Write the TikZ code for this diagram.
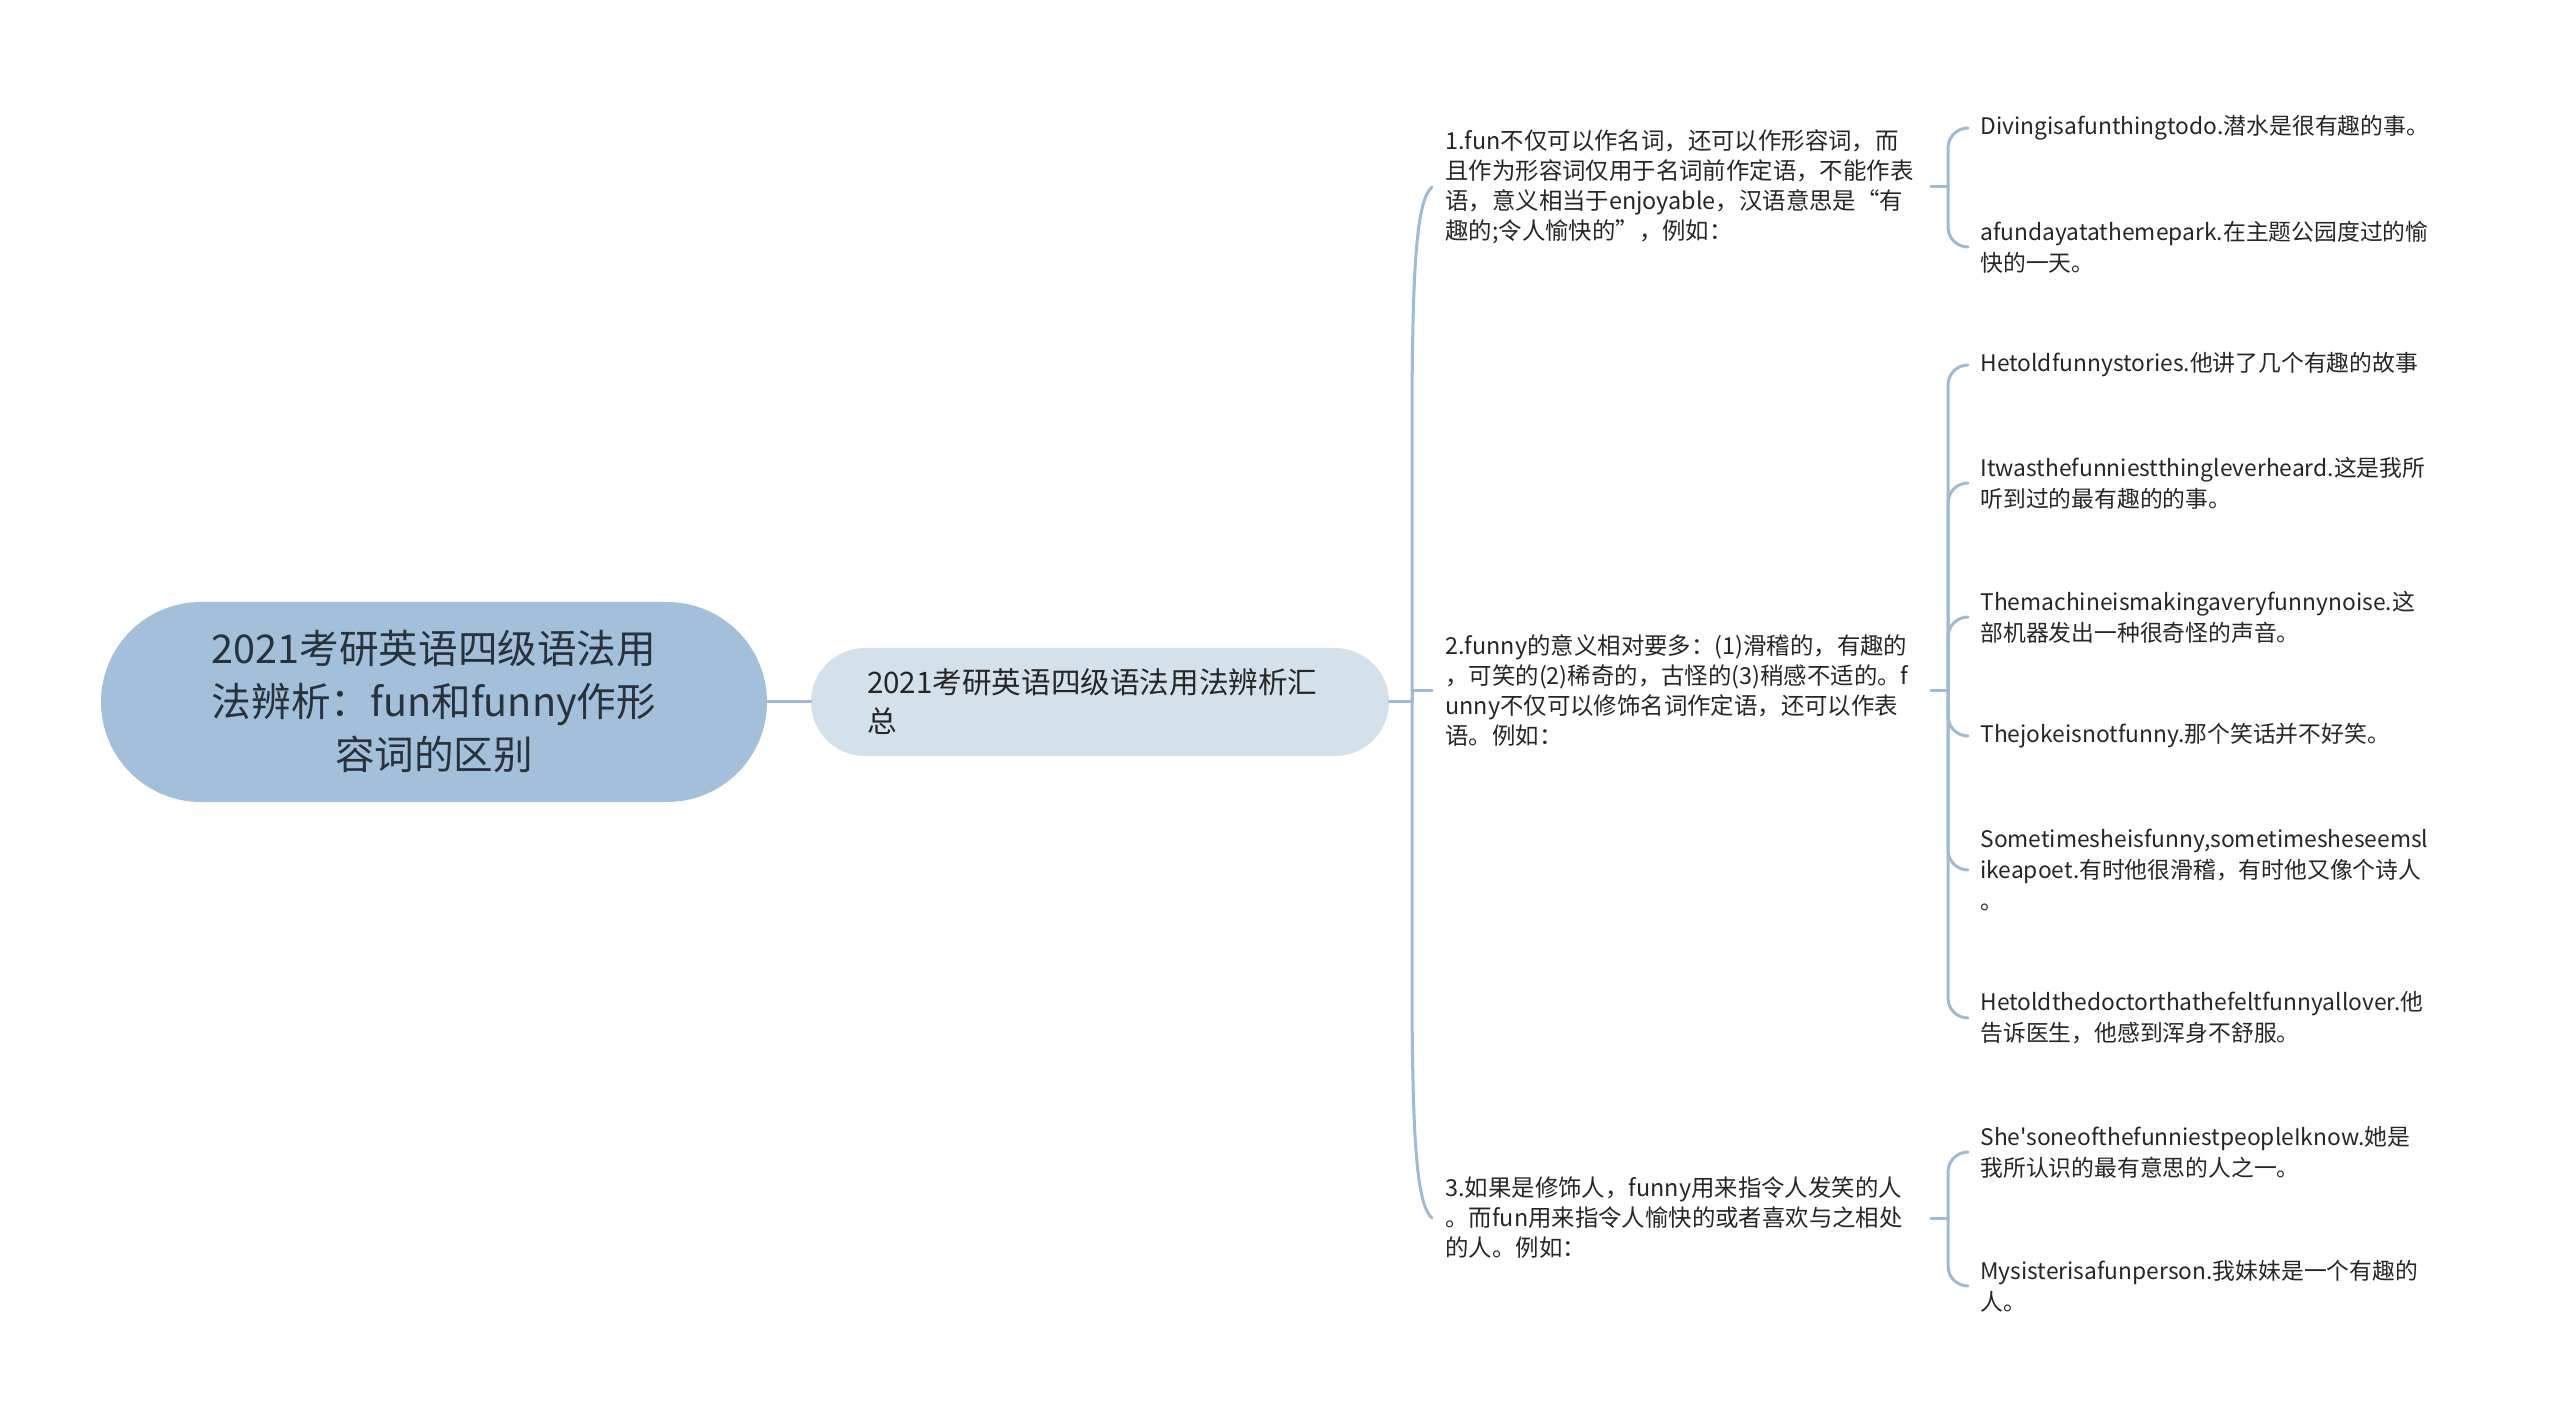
\documentclass[tikz,border=0pt]{standalone}
\usepackage{fontspec}
\setmainfont{Noto Sans CJK SC}[Ligatures=TeXOff]
\definecolor{rootfill}{HTML}{A3BFDA}
\definecolor{subfill}{HTML}{D4E0EA}
\definecolor{linkcol}{HTML}{A0BAD2}
\definecolor{txtcol}{HTML}{262626}
\definecolor{roottxt}{HTML}{28323D}
\tikzset{
  rootbox/.style={rectangle, rounded corners=50pt, fill=rootfill, text=roottxt,
    minimum width=333pt, minimum height=100pt, align=center,
    font=\fontsize{19.8pt}{26.5pt}\selectfont},
  subbox/.style={rectangle, rounded corners=27pt, fill=subfill, text=txtcol,
    minimum height=54pt, inner xsep=28pt, text width=233pt, align=left,
    font=\fontsize{14.8pt}{19.5pt}\selectfont},
  branchtxt/.style={anchor=west, inner xsep=6.5pt, inner ysep=0pt, text=txtcol,
    text width=236pt, align=left, font=\fontsize{11.7pt}{15pt}\selectfont},
  leaftxt/.style={anchor=west, inner xsep=6pt, inner ysep=0pt, text=txtcol,
    text width=236pt, align=left, font=\fontsize{11.4pt}{15.5pt}\selectfont},
  link/.style={draw=linkcol, line width=1.5pt, line cap=round}
}
\begin{document}
\begin{tikzpicture}[x=0.5pt, y=-0.5pt]
  \useasboundingbox (0,0) rectangle (2560,1427);

  % centre and summary
  \node[rootbox] (root) at (434,702) {2021考研英语四级语法用\\法辨析：fun和funny作形\\容词的区别};
  \node[subbox] (sum) at (1100,702) {2021考研英语四级语法用法辨析汇\\总};
  \draw[link] (root) -- (sum);

  % the three points
  \node[branchtxt] (p1) at (1432,187) {1.fun不仅可以作名词，还可以作形容词，而\\且作为形容词仅用于名词前作定语，不能作表\\语，意义相当于enjoyable，汉语意思是“有\\趣的;令人愉快的”，例如：};
  \node[branchtxt] (p2) at (1432,691) {2.funny的意义相对要多：(1)滑稽的，有趣的\\，可笑的(2)稀奇的，古怪的(3)稍感不适的。f\\unny不仅可以修饰名词作定语，还可以作表\\语。例如：};
  \node[branchtxt] (p3) at (1432,1218) {3.如果是修饰人，funny用来指令人发笑的人\\。而fun用来指令人愉快的或者喜欢与之相处\\的人。例如：};

  \coordinate (j) at (1412,702);
  \draw[link] (sum.east) -- (j);
  \draw[link] (j) -- (1412,430) .. controls (1412,260) and (1417,200) .. (p1.west);
  \draw[link] (j) |- (p2.west);
  \draw[link] (j) -- (1412,975) .. controls (1412,1145) and (1417,1205) .. (p3.west);

  % examples of point 1
  \node[leaftxt] (e11) at (1968,128) {Divingisafunthingtodo.潜水是很有趣的事。};
  \node[leaftxt] (e12) at (1968,247) {afundayatathemepark.在主题公园度过的愉\\快的一天。};

  % examples of point 2
  \node[leaftxt] (e21) at (1968,365) {Hetoldfunnystories.他讲了几个有趣的故事};
  \node[leaftxt] (e22) at (1968,483) {Itwasthefunniestthingleverheard.这是我所\\听到过的最有趣的的事。};
  \node[leaftxt] (e23) at (1968,617) {Themachineismakingaveryfunnynoise.这\\部机器发出一种很奇怪的声音。};
  \node[leaftxt] (e24) at (1968,736) {Thejokeisnotfunny.那个笑话并不好笑。};
  \node[leaftxt] (e25) at (1968,870) {Sometimesheisfunny,sometimesheseemsl\\ikeapoet.有时他很滑稽，有时他又像个诗人\\。};
  \node[leaftxt] (e26) at (1968,1018) {Hetoldthedoctorthathefeltfunnyallover.他\\告诉医生，他感到浑身不舒服。};

  % examples of point 3
  \node[leaftxt] (e31) at (1968,1152) {She'soneofthefunniestpeopleIknow.她是\\我所认识的最有意思的人之一。};
  \node[leaftxt] (e32) at (1968,1286) {Mysisterisafunperson.我妹妹是一个有趣的\\人。};

  \coordinate (k1) at (1948,187);
  \coordinate (k2) at (1948,691);
  \coordinate (k3) at (1948,1218);
  \draw[link] (p1.east) -- (k1);
  \draw[link] (p2.east) -- (k2);
  \draw[link] (p3.east) -- (k3);

  \foreach \e in {e11,e12}
    \draw[link, rounded corners=10pt] (k1) |- (\e.west);
  \foreach \e in {e21,e22,e23,e24,e25,e26}
    \draw[link, rounded corners=10pt] (k2) |- (\e.west);
  \foreach \e in {e31,e32}
    \draw[link, rounded corners=10pt] (k3) |- (\e.west);
\end{tikzpicture}
\end{document}
